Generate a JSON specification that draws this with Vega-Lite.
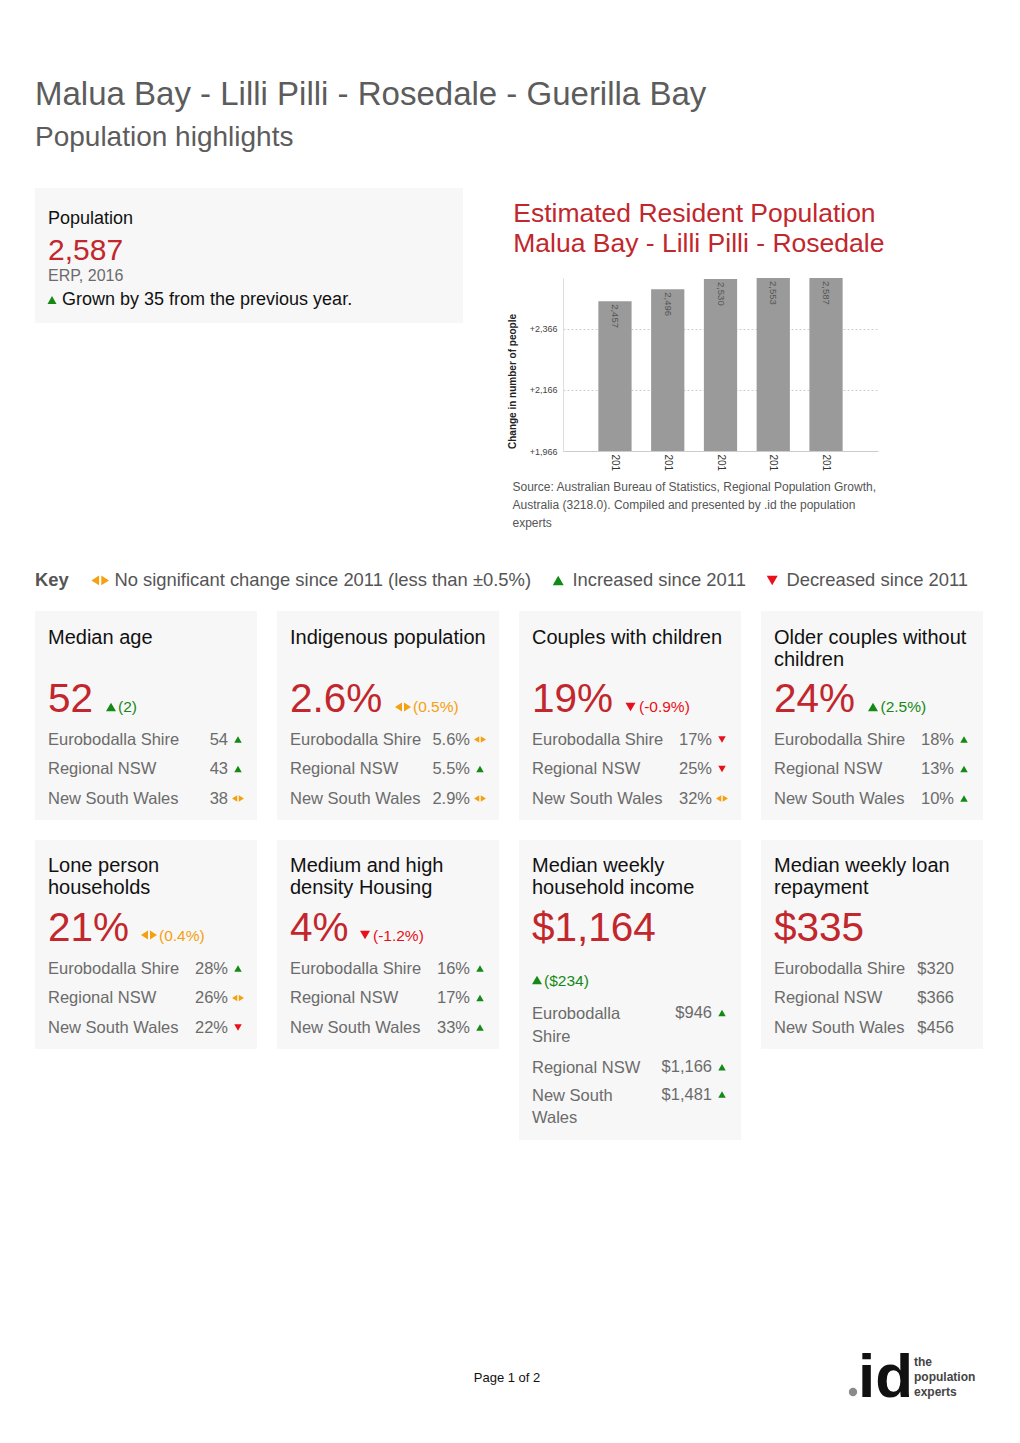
{
"$schema": "https://vega.github.io/schema/vega-lite/v6.json",
"background": "white",
"padding": {"left": 35, "top": 79, "right": 20, "bottom": 20},
"title": {"text": "Malua Bay - Lilli Pilli - Rosedale - Guerilla Bay", "subtitle": "Population highlights", "anchor": "start", "fontSize": 33, "fontWeight": "normal", "color": "#5c5c5c", "subtitleFontSize": 28, "subtitleColor": "#5c5c5c", "subtitlePadding": 12, "offset": 36},
"datasets": {
"erp": [
{"year": "2012", "population": 2457},
{"year": "2013", "population": 2496},
{"year": "2014", "population": 2530},
{"year": "2015", "population": 2553},
{"year": "2016", "population": 2587}
],
"highlight": [{"label": "Population", "source": "ERP, 2016", "note": "Grown by 35 from the previous year.", "dir": "up"}],
"cards": [
{"card": "age", "title": "Median age", "headline": "52", "change": "(2)", "dir": "up"},
{"card": "indigenous", "title": "Indigenous population", "headline": "2.6%", "change": "(0.5%)", "dir": "flat"},
{"card": "couples", "title": "Couples with children", "headline": "19%", "change": "(-0.9%)", "dir": "down"},
{"card": "older", "title": "Older couples without\nchildren", "headline": "24%", "change": "(2.5%)", "dir": "up"},
{"card": "lone", "title": "Lone person\nhouseholds", "headline": "21%", "change": "(0.4%)", "dir": "flat"},
{"card": "density", "title": "Medium and high\ndensity Housing", "headline": "4%", "change": "(-1.2%)", "dir": "down"},
{"card": "income", "title": "Median weekly\nhousehold income", "headline": "$1,164", "change": "($234)", "dir": "up"},
{"card": "loan", "title": "Median weekly loan\nrepayment", "headline": "$335"}
],
"areas": [
{"card": "age", "area": "Eurobodalla Shire", "value": "54", "dir": "up"},
{"card": "age", "area": "Regional NSW", "value": "43", "dir": "up"},
{"card": "age", "area": "New South Wales", "value": "38", "dir": "flat"},
{"card": "indigenous", "area": "Eurobodalla Shire", "value": "5.6%", "dir": "flat"},
{"card": "indigenous", "area": "Regional NSW", "value": "5.5%", "dir": "up"},
{"card": "indigenous", "area": "New South Wales", "value": "2.9%", "dir": "flat"},
{"card": "couples", "area": "Eurobodalla Shire", "value": "17%", "dir": "down"},
{"card": "couples", "area": "Regional NSW", "value": "25%", "dir": "down"},
{"card": "couples", "area": "New South Wales", "value": "32%", "dir": "flat"},
{"card": "older", "area": "Eurobodalla Shire", "value": "18%", "dir": "up"},
{"card": "older", "area": "Regional NSW", "value": "13%", "dir": "up"},
{"card": "older", "area": "New South Wales", "value": "10%", "dir": "up"},
{"card": "lone", "area": "Eurobodalla Shire", "value": "28%", "dir": "up"},
{"card": "lone", "area": "Regional NSW", "value": "26%", "dir": "flat"},
{"card": "lone", "area": "New South Wales", "value": "22%", "dir": "down"},
{"card": "density", "area": "Eurobodalla Shire", "value": "16%", "dir": "up"},
{"card": "density", "area": "Regional NSW", "value": "17%", "dir": "up"},
{"card": "density", "area": "New South Wales", "value": "33%", "dir": "up"},
{"card": "income", "area": "Eurobodalla Shire", "label": "Eurobodalla\nShire", "value": "$946", "dir": "up"},
{"card": "income", "area": "Regional NSW", "label": "Regional NSW", "value": "$1,166", "dir": "up"},
{"card": "income", "area": "New South Wales", "label": "New South\nWales", "value": "$1,481", "dir": "up"},
{"card": "loan", "area": "Eurobodalla Shire", "value": "$320"},
{"card": "loan", "area": "Regional NSW", "value": "$366"},
{"card": "loan", "area": "New South Wales", "value": "$456"}
]
},
"spacing": 83,
"bounds": "full",
"vconcat": [
{"hconcat": [
{"width": 428, "height": 135, "view": {"fill": "#f7f7f7", "stroke": null},
"data": {"name": "highlight"},
"layer": [
{"mark": {"type": "text", "align": "left", "baseline": "alphabetic", "x": 13, "y": 36, "fontSize": 18, "color": "#111111"}, "encoding": {"text": {"field": "label", "type": "nominal"}}},
{"data": {"name": "erp"}, "transform": [{"filter": "datum.year == '2016'"}], "mark": {"type": "text", "align": "left", "baseline": "alphabetic", "x": 13, "y": 72, "fontSize": 30, "color": "#c1272d"}, "encoding": {"text": {"field": "population", "type": "quantitative", "format": ","}}},
{"mark": {"type": "text", "align": "left", "baseline": "alphabetic", "x": 13, "y": 92.5, "fontSize": 16, "color": "#6b6b6b"}, "encoding": {"text": {"field": "source", "type": "nominal"}}},
{"mark": {"type": "point", "filled": true, "opacity": 1, "shape": "triangle-up", "color": "#138a13", "size": 81, "x": 17, "y": 112}},
{"mark": {"type": "text", "align": "left", "baseline": "alphabetic", "x": 27, "y": 116.7, "fontSize": 18, "color": "#111111"}, "encoding": {"text": {"field": "note", "type": "nominal"}}}
]},
{"width": 315, "height": 263,
"data": {"name": "erp"},
"title": {"text": ["Estimated Resident Population", "Malua Bay - Lilli Pilli - Rosedale"], "anchor": "start", "frame": "bounds", "fontSize": 26.5, "fontWeight": "normal", "color": "#c1272d", "lineHeight": 30, "offset": -69, "dx": 6},
"encoding": {
"x": {"field": "year", "type": "ordinal", "scale": {"paddingInner": 0.37, "paddingOuter": 0.67},
"axis": {"title": ["Source: Australian Bureau of Statistics, Regional Population Growth,", "Australia (3218.0). Compiled and presented by .id the population", "experts"], "titleFontSize": 12, "titleFontWeight": "normal", "titleColor": "#555555", "titleAnchor": "start", "titleAlign": "left", "titleBaseline": "top", "titleX": -51, "titleY": 30, "titleLineHeight": 18, "labelAngle": 90, "labelAlign": "left", "labelBaseline": "middle", "labelPadding": 3, "labelFontSize": 10, "labelColor": "#333333", "labelExpr": "substring(datum.label, 0, 3)", "ticks": false, "domainColor": "#cccccc", "grid": false}},
"y": {"field": "population", "type": "quantitative", "scale": {"domain": [1966, 2533], "range": [263, 90], "clamp": true, "zero": false, "nice": false},
"axis": {"values": [1966, 2166, 2366], "format": "+,.0f", "title": "Change in number of people", "titleFontSize": 10, "titleFontWeight": "bold", "titleColor": "#222222", "titlePadding": 12, "titleY": 193, "labelFontSize": 9, "labelColor": "#444444", "labelPadding": 6, "ticks": false, "domainColor": "#dddddd", "grid": true, "gridColor": "#cfcfcf", "gridDash": [2, 2]}}
},
"layer": [
{"mark": {"type": "bar", "color": "#9a9a9a"}},
{"mark": {"type": "text", "angle": 90, "align": "left", "baseline": "middle", "dx": 3, "fontSize": 9.5, "color": "#555555"}, "encoding": {"text": {"field": "population", "type": "quantitative", "format": ","}}}
]}
], "spacing": 100, "bounds": "flush"},
{"vconcat": [
{"hconcat": [
{"width": 222, "height": 209, "view": {"fill": "#f7f7f7", "stroke": null}, "layer": [
{"data": {"name": "cards"}, "transform": [{"filter": "datum.card == 'age'"}], "mark": {"type": "text", "align": "left", "baseline": "alphabetic", "x": 13, "y": 33, "fontSize": 20, "lineHeight": 22, "lineBreak": "\n", "color": "#111111"}, "encoding": {"text": {"field": "title", "type": "nominal"}}},
{"data": {"name": "cards"}, "transform": [{"filter": "datum.card == 'age'"}], "mark": {"type": "text", "align": "left", "baseline": "alphabetic", "x": 13, "y": 101, "fontSize": 40.5, "color": "#c1272d"}, "encoding": {"text": {"field": "headline", "type": "nominal"}}},
{"data": {"name": "cards"}, "transform": [{"filter": "datum.card == 'age'"}], "mark": {"type": "point", "filled": true, "opacity": 1, "size": 100, "x": 76, "y": 96}, "encoding": {
"shape": {"field": "dir", "type": "nominal", "scale": {"domain": ["flat", "up", "down"], "range": ["M-1.6,0L-0.2,-0.9L-0.2,0.9Z M0.2,-0.9L1.6,0L0.2,0.9Z", "triangle-up", "triangle-down"]}, "legend": {"title": "Key", "orient": "none", "legendX": 0, "legendY": 383, "direction": "horizontal", "labelExpr": "datum.value == 'flat' ? 'No significant change since 2011 (less than ±0.5%)' : datum.value == 'up' ? 'Increased since 2011' : 'Decreased since 2011'"}},
"color": {"field": "dir", "type": "nominal", "scale": {"domain": ["flat", "up", "down"], "range": ["#f5a00f", "#138a13", "#e8101a"]}, "legend": {"title": "Key", "orient": "none", "legendX": 0, "legendY": 383, "direction": "horizontal", "labelExpr": "datum.value == 'flat' ? 'No significant change since 2011 (less than ±0.5%)' : datum.value == 'up' ? 'Increased since 2011' : 'Decreased since 2011'"}}}},
{"data": {"name": "cards"}, "transform": [{"filter": "datum.card == 'age'"}], "mark": {"type": "text", "align": "left", "baseline": "alphabetic", "x": 83, "y": 101, "fontSize": 15.5}, "encoding": {"text": {"field": "change", "type": "nominal"}, "color": {"field": "dir", "type": "nominal", "scale": {"domain": ["flat", "up", "down"], "range": ["#f5a00f", "#138a13", "#e8101a"]}}}},
{"data": {"name": "areas"}, "transform": [{"filter": "datum.card == 'age'"}], "mark": {"type": "text", "align": "left", "baseline": "middle", "x": 13, "fontSize": 16.5, "color": "#6b6b6b"}, "encoding": {"y": {"field": "area", "type": "nominal", "sort": null, "axis": null, "scale": {"type": "point", "padding": 0, "range": [128.5, 187.5]}}, "text": {"field": "area", "type": "nominal"}}},
{"data": {"name": "areas"}, "transform": [{"filter": "datum.card == 'age'"}], "mark": {"type": "text", "align": "right", "baseline": "middle", "x": 193, "fontSize": 16.5, "color": "#6b6b6b"}, "encoding": {"y": {"field": "area", "type": "nominal", "sort": null, "axis": null}, "text": {"field": "value", "type": "nominal"}}},
{"data": {"name": "areas"}, "transform": [{"filter": "datum.card == 'age'"}], "mark": {"type": "point", "filled": true, "opacity": 1, "size": 56, "x": 203}, "encoding": {"y": {"field": "area", "type": "nominal", "sort": null, "axis": null}, "shape": {"field": "dir", "type": "nominal", "scale": {"domain": ["flat", "up", "down"], "range": ["M-1.6,0L-0.2,-0.9L-0.2,0.9Z M0.2,-0.9L1.6,0L0.2,0.9Z", "triangle-up", "triangle-down"]}}, "color": {"field": "dir", "type": "nominal", "scale": {"domain": ["flat", "up", "down"], "range": ["#f5a00f", "#138a13", "#e8101a"]}}}}
]},
{"width": 222, "height": 209, "view": {"fill": "#f7f7f7", "stroke": null}, "layer": [
{"data": {"name": "cards"}, "transform": [{"filter": "datum.card == 'indigenous'"}], "mark": {"type": "text", "align": "left", "baseline": "alphabetic", "x": 13, "y": 33, "fontSize": 20, "lineHeight": 22, "lineBreak": "\n", "color": "#111111"}, "encoding": {"text": {"field": "title", "type": "nominal"}}},
{"data": {"name": "cards"}, "transform": [{"filter": "datum.card == 'indigenous'"}], "mark": {"type": "text", "align": "left", "baseline": "alphabetic", "x": 13, "y": 101, "fontSize": 40.5, "color": "#c1272d"}, "encoding": {"text": {"field": "headline", "type": "nominal"}}},
{"data": {"name": "cards"}, "transform": [{"filter": "datum.card == 'indigenous'"}], "mark": {"type": "point", "filled": true, "opacity": 1, "size": 100, "x": 126, "y": 96}, "encoding": {"shape": {"field": "dir", "type": "nominal", "scale": {"domain": ["flat", "up", "down"], "range": ["M-1.6,0L-0.2,-0.9L-0.2,0.9Z M0.2,-0.9L1.6,0L0.2,0.9Z", "triangle-up", "triangle-down"]}}, "color": {"field": "dir", "type": "nominal", "scale": {"domain": ["flat", "up", "down"], "range": ["#f5a00f", "#138a13", "#e8101a"]}}}},
{"data": {"name": "cards"}, "transform": [{"filter": "datum.card == 'indigenous'"}], "mark": {"type": "text", "align": "left", "baseline": "alphabetic", "x": 136, "y": 101, "fontSize": 15.5}, "encoding": {"text": {"field": "change", "type": "nominal"}, "color": {"field": "dir", "type": "nominal", "scale": {"domain": ["flat", "up", "down"], "range": ["#f5a00f", "#138a13", "#e8101a"]}}}},
{"data": {"name": "areas"}, "transform": [{"filter": "datum.card == 'indigenous'"}], "mark": {"type": "text", "align": "left", "baseline": "middle", "x": 13, "fontSize": 16.5, "color": "#6b6b6b"}, "encoding": {"y": {"field": "area", "type": "nominal", "sort": null, "axis": null, "scale": {"type": "point", "padding": 0, "range": [128.5, 187.5]}}, "text": {"field": "area", "type": "nominal"}}},
{"data": {"name": "areas"}, "transform": [{"filter": "datum.card == 'indigenous'"}], "mark": {"type": "text", "align": "right", "baseline": "middle", "x": 193, "fontSize": 16.5, "color": "#6b6b6b"}, "encoding": {"y": {"field": "area", "type": "nominal", "sort": null, "axis": null}, "text": {"field": "value", "type": "nominal"}}},
{"data": {"name": "areas"}, "transform": [{"filter": "datum.card == 'indigenous'"}], "mark": {"type": "point", "filled": true, "opacity": 1, "size": 56, "x": 203}, "encoding": {"y": {"field": "area", "type": "nominal", "sort": null, "axis": null}, "shape": {"field": "dir", "type": "nominal", "scale": {"domain": ["flat", "up", "down"], "range": ["M-1.6,0L-0.2,-0.9L-0.2,0.9Z M0.2,-0.9L1.6,0L0.2,0.9Z", "triangle-up", "triangle-down"]}}, "color": {"field": "dir", "type": "nominal", "scale": {"domain": ["flat", "up", "down"], "range": ["#f5a00f", "#138a13", "#e8101a"]}}}}
]},
{"width": 222, "height": 209, "view": {"fill": "#f7f7f7", "stroke": null}, "layer": [
{"data": {"name": "cards"}, "transform": [{"filter": "datum.card == 'couples'"}], "mark": {"type": "text", "align": "left", "baseline": "alphabetic", "x": 13, "y": 33, "fontSize": 20, "lineHeight": 22, "lineBreak": "\n", "color": "#111111"}, "encoding": {"text": {"field": "title", "type": "nominal"}}},
{"data": {"name": "cards"}, "transform": [{"filter": "datum.card == 'couples'"}], "mark": {"type": "text", "align": "left", "baseline": "alphabetic", "x": 13, "y": 101, "fontSize": 40.5, "color": "#c1272d"}, "encoding": {"text": {"field": "headline", "type": "nominal"}}},
{"data": {"name": "cards"}, "transform": [{"filter": "datum.card == 'couples'"}], "mark": {"type": "point", "filled": true, "opacity": 1, "size": 100, "x": 111.5, "y": 96}, "encoding": {"shape": {"field": "dir", "type": "nominal", "scale": {"domain": ["flat", "up", "down"], "range": ["M-1.6,0L-0.2,-0.9L-0.2,0.9Z M0.2,-0.9L1.6,0L0.2,0.9Z", "triangle-up", "triangle-down"]}}, "color": {"field": "dir", "type": "nominal", "scale": {"domain": ["flat", "up", "down"], "range": ["#f5a00f", "#138a13", "#e8101a"]}}}},
{"data": {"name": "cards"}, "transform": [{"filter": "datum.card == 'couples'"}], "mark": {"type": "text", "align": "left", "baseline": "alphabetic", "x": 120, "y": 101, "fontSize": 15.5}, "encoding": {"text": {"field": "change", "type": "nominal"}, "color": {"field": "dir", "type": "nominal", "scale": {"domain": ["flat", "up", "down"], "range": ["#f5a00f", "#138a13", "#e8101a"]}}}},
{"data": {"name": "areas"}, "transform": [{"filter": "datum.card == 'couples'"}], "mark": {"type": "text", "align": "left", "baseline": "middle", "x": 13, "fontSize": 16.5, "color": "#6b6b6b"}, "encoding": {"y": {"field": "area", "type": "nominal", "sort": null, "axis": null, "scale": {"type": "point", "padding": 0, "range": [128.5, 187.5]}}, "text": {"field": "area", "type": "nominal"}}},
{"data": {"name": "areas"}, "transform": [{"filter": "datum.card == 'couples'"}], "mark": {"type": "text", "align": "right", "baseline": "middle", "x": 193, "fontSize": 16.5, "color": "#6b6b6b"}, "encoding": {"y": {"field": "area", "type": "nominal", "sort": null, "axis": null}, "text": {"field": "value", "type": "nominal"}}},
{"data": {"name": "areas"}, "transform": [{"filter": "datum.card == 'couples'"}], "mark": {"type": "point", "filled": true, "opacity": 1, "size": 56, "x": 203}, "encoding": {"y": {"field": "area", "type": "nominal", "sort": null, "axis": null}, "shape": {"field": "dir", "type": "nominal", "scale": {"domain": ["flat", "up", "down"], "range": ["M-1.6,0L-0.2,-0.9L-0.2,0.9Z M0.2,-0.9L1.6,0L0.2,0.9Z", "triangle-up", "triangle-down"]}}, "color": {"field": "dir", "type": "nominal", "scale": {"domain": ["flat", "up", "down"], "range": ["#f5a00f", "#138a13", "#e8101a"]}}}}
]},
{"width": 222, "height": 209, "view": {"fill": "#f7f7f7", "stroke": null}, "layer": [
{"data": {"name": "cards"}, "transform": [{"filter": "datum.card == 'older'"}], "mark": {"type": "text", "align": "left", "baseline": "alphabetic", "x": 13, "y": 33, "fontSize": 20, "lineHeight": 22, "lineBreak": "\n", "color": "#111111"}, "encoding": {"text": {"field": "title", "type": "nominal"}}},
{"data": {"name": "cards"}, "transform": [{"filter": "datum.card == 'older'"}], "mark": {"type": "text", "align": "left", "baseline": "alphabetic", "x": 13, "y": 101, "fontSize": 40.5, "color": "#c1272d"}, "encoding": {"text": {"field": "headline", "type": "nominal"}}},
{"data": {"name": "cards"}, "transform": [{"filter": "datum.card == 'older'"}], "mark": {"type": "point", "filled": true, "opacity": 1, "size": 100, "x": 112, "y": 96}, "encoding": {"shape": {"field": "dir", "type": "nominal", "scale": {"domain": ["flat", "up", "down"], "range": ["M-1.6,0L-0.2,-0.9L-0.2,0.9Z M0.2,-0.9L1.6,0L0.2,0.9Z", "triangle-up", "triangle-down"]}}, "color": {"field": "dir", "type": "nominal", "scale": {"domain": ["flat", "up", "down"], "range": ["#f5a00f", "#138a13", "#e8101a"]}}}},
{"data": {"name": "cards"}, "transform": [{"filter": "datum.card == 'older'"}], "mark": {"type": "text", "align": "left", "baseline": "alphabetic", "x": 119.5, "y": 101, "fontSize": 15.5}, "encoding": {"text": {"field": "change", "type": "nominal"}, "color": {"field": "dir", "type": "nominal", "scale": {"domain": ["flat", "up", "down"], "range": ["#f5a00f", "#138a13", "#e8101a"]}}}},
{"data": {"name": "areas"}, "transform": [{"filter": "datum.card == 'older'"}], "mark": {"type": "text", "align": "left", "baseline": "middle", "x": 13, "fontSize": 16.5, "color": "#6b6b6b"}, "encoding": {"y": {"field": "area", "type": "nominal", "sort": null, "axis": null, "scale": {"type": "point", "padding": 0, "range": [128.5, 187.5]}}, "text": {"field": "area", "type": "nominal"}}},
{"data": {"name": "areas"}, "transform": [{"filter": "datum.card == 'older'"}], "mark": {"type": "text", "align": "right", "baseline": "middle", "x": 193, "fontSize": 16.5, "color": "#6b6b6b"}, "encoding": {"y": {"field": "area", "type": "nominal", "sort": null, "axis": null}, "text": {"field": "value", "type": "nominal"}}},
{"data": {"name": "areas"}, "transform": [{"filter": "datum.card == 'older'"}], "mark": {"type": "point", "filled": true, "opacity": 1, "size": 56, "x": 203}, "encoding": {"y": {"field": "area", "type": "nominal", "sort": null, "axis": null}, "shape": {"field": "dir", "type": "nominal", "scale": {"domain": ["flat", "up", "down"], "range": ["M-1.6,0L-0.2,-0.9L-0.2,0.9Z M0.2,-0.9L1.6,0L0.2,0.9Z", "triangle-up", "triangle-down"]}}, "color": {"field": "dir", "type": "nominal", "scale": {"domain": ["flat", "up", "down"], "range": ["#f5a00f", "#138a13", "#e8101a"]}}}}
]}
], "spacing": 20, "bounds": "flush"},
{"hconcat": [
{"width": 222, "height": 209, "view": {"fill": "#f7f7f7", "stroke": null}, "layer": [
{"data": {"name": "cards"}, "transform": [{"filter": "datum.card == 'lone'"}], "mark": {"type": "text", "align": "left", "baseline": "alphabetic", "x": 13, "y": 32, "fontSize": 20, "lineHeight": 22, "lineBreak": "\n", "color": "#111111"}, "encoding": {"text": {"field": "title", "type": "nominal"}}},
{"data": {"name": "cards"}, "transform": [{"filter": "datum.card == 'lone'"}], "mark": {"type": "text", "align": "left", "baseline": "alphabetic", "x": 13, "y": 101, "fontSize": 40.5, "color": "#c1272d"}, "encoding": {"text": {"field": "headline", "type": "nominal"}}},
{"data": {"name": "cards"}, "transform": [{"filter": "datum.card == 'lone'"}], "mark": {"type": "point", "filled": true, "opacity": 1, "size": 100, "x": 114, "y": 95}, "encoding": {"shape": {"field": "dir", "type": "nominal", "scale": {"domain": ["flat", "up", "down"], "range": ["M-1.6,0L-0.2,-0.9L-0.2,0.9Z M0.2,-0.9L1.6,0L0.2,0.9Z", "triangle-up", "triangle-down"]}}, "color": {"field": "dir", "type": "nominal", "scale": {"domain": ["flat", "up", "down"], "range": ["#f5a00f", "#138a13", "#e8101a"]}}}},
{"data": {"name": "cards"}, "transform": [{"filter": "datum.card == 'lone'"}], "mark": {"type": "text", "align": "left", "baseline": "alphabetic", "x": 124, "y": 101, "fontSize": 15.5}, "encoding": {"text": {"field": "change", "type": "nominal"}, "color": {"field": "dir", "type": "nominal", "scale": {"domain": ["flat", "up", "down"], "range": ["#f5a00f", "#138a13", "#e8101a"]}}}},
{"data": {"name": "areas"}, "transform": [{"filter": "datum.card == 'lone'"}], "mark": {"type": "text", "align": "left", "baseline": "middle", "x": 13, "fontSize": 16.5, "color": "#6b6b6b"}, "encoding": {"y": {"field": "area", "type": "nominal", "sort": null, "axis": null, "scale": {"type": "point", "padding": 0, "range": [128.5, 187.5]}}, "text": {"field": "area", "type": "nominal"}}},
{"data": {"name": "areas"}, "transform": [{"filter": "datum.card == 'lone'"}], "mark": {"type": "text", "align": "right", "baseline": "middle", "x": 193, "fontSize": 16.5, "color": "#6b6b6b"}, "encoding": {"y": {"field": "area", "type": "nominal", "sort": null, "axis": null}, "text": {"field": "value", "type": "nominal"}}},
{"data": {"name": "areas"}, "transform": [{"filter": "datum.card == 'lone'"}], "mark": {"type": "point", "filled": true, "opacity": 1, "size": 56, "x": 203}, "encoding": {"y": {"field": "area", "type": "nominal", "sort": null, "axis": null}, "shape": {"field": "dir", "type": "nominal", "scale": {"domain": ["flat", "up", "down"], "range": ["M-1.6,0L-0.2,-0.9L-0.2,0.9Z M0.2,-0.9L1.6,0L0.2,0.9Z", "triangle-up", "triangle-down"]}}, "color": {"field": "dir", "type": "nominal", "scale": {"domain": ["flat", "up", "down"], "range": ["#f5a00f", "#138a13", "#e8101a"]}}}}
]},
{"width": 222, "height": 209, "view": {"fill": "#f7f7f7", "stroke": null}, "layer": [
{"data": {"name": "cards"}, "transform": [{"filter": "datum.card == 'density'"}], "mark": {"type": "text", "align": "left", "baseline": "alphabetic", "x": 13, "y": 32, "fontSize": 20, "lineHeight": 22, "lineBreak": "\n", "color": "#111111"}, "encoding": {"text": {"field": "title", "type": "nominal"}}},
{"data": {"name": "cards"}, "transform": [{"filter": "datum.card == 'density'"}], "mark": {"type": "text", "align": "left", "baseline": "alphabetic", "x": 13, "y": 101, "fontSize": 40.5, "color": "#c1272d"}, "encoding": {"text": {"field": "headline", "type": "nominal"}}},
{"data": {"name": "cards"}, "transform": [{"filter": "datum.card == 'density'"}], "mark": {"type": "point", "filled": true, "opacity": 1, "size": 100, "x": 88, "y": 95}, "encoding": {"shape": {"field": "dir", "type": "nominal", "scale": {"domain": ["flat", "up", "down"], "range": ["M-1.6,0L-0.2,-0.9L-0.2,0.9Z M0.2,-0.9L1.6,0L0.2,0.9Z", "triangle-up", "triangle-down"]}}, "color": {"field": "dir", "type": "nominal", "scale": {"domain": ["flat", "up", "down"], "range": ["#f5a00f", "#138a13", "#e8101a"]}}}},
{"data": {"name": "cards"}, "transform": [{"filter": "datum.card == 'density'"}], "mark": {"type": "text", "align": "left", "baseline": "alphabetic", "x": 96, "y": 101, "fontSize": 15.5}, "encoding": {"text": {"field": "change", "type": "nominal"}, "color": {"field": "dir", "type": "nominal", "scale": {"domain": ["flat", "up", "down"], "range": ["#f5a00f", "#138a13", "#e8101a"]}}}},
{"data": {"name": "areas"}, "transform": [{"filter": "datum.card == 'density'"}], "mark": {"type": "text", "align": "left", "baseline": "middle", "x": 13, "fontSize": 16.5, "color": "#6b6b6b"}, "encoding": {"y": {"field": "area", "type": "nominal", "sort": null, "axis": null, "scale": {"type": "point", "padding": 0, "range": [128.5, 187.5]}}, "text": {"field": "area", "type": "nominal"}}},
{"data": {"name": "areas"}, "transform": [{"filter": "datum.card == 'density'"}], "mark": {"type": "text", "align": "right", "baseline": "middle", "x": 193, "fontSize": 16.5, "color": "#6b6b6b"}, "encoding": {"y": {"field": "area", "type": "nominal", "sort": null, "axis": null}, "text": {"field": "value", "type": "nominal"}}},
{"data": {"name": "areas"}, "transform": [{"filter": "datum.card == 'density'"}], "mark": {"type": "point", "filled": true, "opacity": 1, "size": 56, "x": 203}, "encoding": {"y": {"field": "area", "type": "nominal", "sort": null, "axis": null}, "shape": {"field": "dir", "type": "nominal", "scale": {"domain": ["flat", "up", "down"], "range": ["M-1.6,0L-0.2,-0.9L-0.2,0.9Z M0.2,-0.9L1.6,0L0.2,0.9Z", "triangle-up", "triangle-down"]}}, "color": {"field": "dir", "type": "nominal", "scale": {"domain": ["flat", "up", "down"], "range": ["#f5a00f", "#138a13", "#e8101a"]}}}}
]},
{"width": 222, "height": 300, "view": {"fill": "#f7f7f7", "stroke": null}, "layer": [
{"data": {"name": "cards"}, "transform": [{"filter": "datum.card == 'income'"}], "mark": {"type": "text", "align": "left", "baseline": "alphabetic", "x": 13, "y": 32, "fontSize": 20, "lineHeight": 22, "lineBreak": "\n", "color": "#111111"}, "encoding": {"text": {"field": "title", "type": "nominal"}}},
{"data": {"name": "cards"}, "transform": [{"filter": "datum.card == 'income'"}], "mark": {"type": "text", "align": "left", "baseline": "alphabetic", "x": 13, "y": 101, "fontSize": 40.5, "color": "#c1272d"}, "encoding": {"text": {"field": "headline", "type": "nominal"}}},
{"data": {"name": "cards"}, "transform": [{"filter": "datum.card == 'income'"}], "mark": {"type": "point", "filled": true, "opacity": 1, "size": 100, "x": 18, "y": 140}, "encoding": {"shape": {"field": "dir", "type": "nominal", "scale": {"domain": ["flat", "up", "down"], "range": ["M-1.6,0L-0.2,-0.9L-0.2,0.9Z M0.2,-0.9L1.6,0L0.2,0.9Z", "triangle-up", "triangle-down"]}}, "color": {"field": "dir", "type": "nominal", "scale": {"domain": ["flat", "up", "down"], "range": ["#f5a00f", "#138a13", "#e8101a"]}}}},
{"data": {"name": "cards"}, "transform": [{"filter": "datum.card == 'income'"}], "mark": {"type": "text", "align": "left", "baseline": "middle", "x": 25, "y": 141, "fontSize": 15.5}, "encoding": {"text": {"field": "change", "type": "nominal"}, "color": {"field": "dir", "type": "nominal", "scale": {"domain": ["flat", "up", "down"], "range": ["#f5a00f", "#138a13", "#e8101a"]}}}},
{"data": {"name": "areas"}, "transform": [{"filter": "datum.card == 'income'"}], "mark": {"type": "text", "align": "left", "baseline": "alphabetic", "dy": 6, "x": 13, "fontSize": 16.5, "lineHeight": 22.5, "lineBreak": "\n", "color": "#6b6b6b"}, "encoding": {"y": {"field": "area", "type": "nominal", "axis": null, "scale": {"type": "point", "domain": ["Eurobodalla Shire", " ", "Regional NSW", "New South Wales"], "padding": 0, "range": [173, 254.5]}}, "text": {"field": "label", "type": "nominal"}}},
{"data": {"name": "areas"}, "transform": [{"filter": "datum.card == 'income'"}], "mark": {"type": "text", "align": "right", "baseline": "middle", "x": 193, "fontSize": 16.5, "color": "#6b6b6b"}, "encoding": {"y": {"field": "area", "type": "nominal", "axis": null}, "text": {"field": "value", "type": "nominal"}}},
{"data": {"name": "areas"}, "transform": [{"filter": "datum.card == 'income'"}], "mark": {"type": "point", "filled": true, "opacity": 1, "size": 56, "x": 203}, "encoding": {"y": {"field": "area", "type": "nominal", "axis": null}, "shape": {"field": "dir", "type": "nominal", "scale": {"domain": ["flat", "up", "down"], "range": ["M-1.6,0L-0.2,-0.9L-0.2,0.9Z M0.2,-0.9L1.6,0L0.2,0.9Z", "triangle-up", "triangle-down"]}}, "color": {"field": "dir", "type": "nominal", "scale": {"domain": ["flat", "up", "down"], "range": ["#f5a00f", "#138a13", "#e8101a"]}}}}
]},
{"width": 222, "height": 209, "view": {"fill": "#f7f7f7", "stroke": null}, "layer": [
{"data": {"name": "cards"}, "transform": [{"filter": "datum.card == 'loan'"}], "mark": {"type": "text", "align": "left", "baseline": "alphabetic", "x": 13, "y": 32, "fontSize": 20, "lineHeight": 22, "lineBreak": "\n", "color": "#111111"}, "encoding": {"text": {"field": "title", "type": "nominal"}}},
{"data": {"name": "cards"}, "transform": [{"filter": "datum.card == 'loan'"}], "mark": {"type": "text", "align": "left", "baseline": "alphabetic", "x": 13, "y": 101, "fontSize": 40.5, "color": "#c1272d"}, "encoding": {"text": {"field": "headline", "type": "nominal"}}},
{"data": {"name": "areas"}, "transform": [{"filter": "datum.card == 'loan'"}], "mark": {"type": "text", "align": "left", "baseline": "middle", "x": 13, "fontSize": 16.5, "color": "#6b6b6b"}, "encoding": {"y": {"field": "area", "type": "nominal", "sort": null, "axis": null, "scale": {"type": "point", "padding": 0, "range": [128.5, 187.5]}}, "text": {"field": "area", "type": "nominal"}}},
{"data": {"name": "areas"}, "transform": [{"filter": "datum.card == 'loan'"}], "mark": {"type": "text", "align": "right", "baseline": "middle", "x": 193, "fontSize": 16.5, "color": "#6b6b6b"}, "encoding": {"y": {"field": "area", "type": "nominal", "sort": null, "axis": null}, "text": {"field": "value", "type": "nominal"}}}
]}
], "spacing": 20, "bounds": "flush"}
], "spacing": 20, "bounds": "full"},
{"width": 950, "height": 180,
"data": {"values": [{"page": "Page 1 of 2", "brand": "id", "tagline": "the\npopulation\nexperts"}]},
"layer": [
{"mark": {"type": "text", "align": "center", "baseline": "middle", "x": 472, "y": 155, "fontSize": 13, "color": "#111111"}, "encoding": {"text": {"field": "page", "type": "nominal"}}},
{"mark": {"type": "point", "filled": true, "opacity": 1, "shape": "circle", "size": 70, "color": "#8a8a8a", "x": 818, "y": 169}, "encoding": {}},
{"mark": {"type": "text", "align": "left", "baseline": "alphabetic", "x": 823, "y": 174, "fontSize": 62, "fontWeight": "bold", "color": "#111111"}, "encoding": {"text": {"field": "brand", "type": "nominal"}}},
{"mark": {"type": "text", "align": "left", "baseline": "alphabetic", "x": 879, "y": 143, "fontSize": 12, "fontWeight": "bold", "lineHeight": 15, "lineBreak": "\n", "color": "#444444"}, "encoding": {"text": {"field": "tagline", "type": "nominal"}}}
]}
],
"config": {
"font": "Liberation Sans",
"view": {"stroke": null},
"legend": {"orient": "none", "legendX": 0, "legendY": 383, "direction": "horizontal", "titleOrient": "left", "titleFontSize": 18.4, "titleFontWeight": "bold", "titleColor": "#555555", "titlePadding": 22, "labelFontSize": 18.4, "labelColor": "#555555", "labelLimit": 700, "symbolSize": 121, "symbolStrokeWidth": 0, "columnPadding": 17, "labelOffset": 5}
}
}
